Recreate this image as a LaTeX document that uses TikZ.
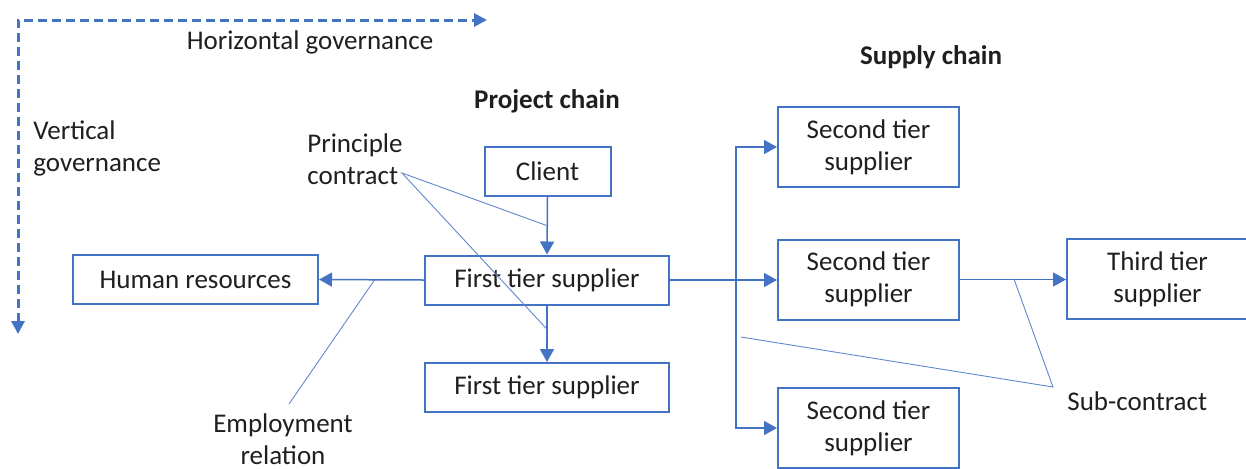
\documentclass[tikz,border=0pt]{standalone}
\usepackage{fontspec}
\setmainfont{Carlito}
\usetikzlibrary{arrows.meta,calc,positioning}
\definecolor{chainblue}{HTML}{4472C4}
\tikzset {
  >={Triangle[length=6.5pt,width=7pt]},
  every node/.style={font=\fontsize{13.5}{16}\selectfont, text=black!88},
  party/.style={draw=chainblue, line width=1pt, minimum height=24.5pt, inner sep=0pt, align=center},
  tier/.style={party, minimum width=90.5pt, minimum height=40pt},
  note/.style={anchor=west, align=left, inner xsep=0pt},
  link/.style={draw=chainblue, line width=0.75pt},
  callout/.style={draw=chainblue!85, line width=0.45pt},
  govern/.style={draw=chainblue, line width=1.5pt, dash pattern=on 4.5pt off 2.5pt,
    >={Triangle[length=6.5pt,width=6.5pt]}},
}

\begin{document}
\begin{tikzpicture}[x=0.5pt,y=-0.5pt]
  \useasboundingbox (0,0) rectangle (1246,468);

  % governance axes
  \coordinate (htip) at (487,20);
  \coordinate (vtip) at (18,334);
  \draw[govern,<->] (vtip) |- (htip);
  \node (horiz) at (310,42) {Horizontal governance};
  \node[note] (vert) at (33,148) {Vertical\\governance};

  % project chain
  \node (project) at (547,101) {\bfseries Project chain};
  \node[party, minimum width=63pt] (client) at (547.5,171.5) {Client};
  \node[party, minimum width=122pt] (first) at (547,280) {First tier supplier};
  \node[party, minimum width=122pt] (firstlow) at (547,387.5) {First tier supplier};
  \node[party, minimum width=122.5pt] (hr) at (195.5,279.5) {Human resources};

  \draw[link,->] (client.south) -- (first.north);
  \draw[link,->] (first.south) -- (firstlow.north);
  \draw[link,->] (first.west) -- (hr.east);

  % supply chain
  \node (supply) at (931,57) {\bfseries Supply chain};
  \node[tier] (secondup) at (868.5,147) {Second tier\\supplier};
  \node[tier] (secondmid) at (868.5,279.5) {Second tier\\supplier};
  \node[tier] (secondlow) at (868.5,428) {Second tier\\supplier};
  \node[tier] (third) at (1157.5,279) {Third tier\\supplier};

  \coordinate (split) at (736,280);
  \draw[link,->] (first.east) -- (first.east -| secondmid.west);
  \draw[link,->] (split) |- (secondup.west);
  \draw[link,->] (split) |- (secondlow.west);
  \draw[link,->] (secondmid.east) -- (secondmid.east -| third.west);

  % contract labels
  \node[note] (principle) at (307,159) {Principle\\contract};
  \node[align=center, inner sep=1pt] (employ) at (283,439) {Employment\\relation};
  \node[note] (subcon) at (1067,401) {Sub-contract};

  \coordinate (pctail) at (402,173);
  \coordinate (pca) at ($(client.south)!0.5!(first.north)$);
  \coordinate (pcb) at ($(first.south)!0.42!(firstlow.north)$);
  \draw[callout] (pca) -- (pctail) -- (pcb);

  \coordinate (empa) at ($(first.west)!0.47!(hr.east)$);
  \coordinate (emptail) at (289,404);
  \draw[callout] (empa) -- (emptail);

  \coordinate (suba) at ($(secondmid.east)!0.51!(third.west)$);
  \coordinate (subb) at (741,337);
  \coordinate (subtip) at (1053,387);
  \draw[callout] (suba) -- (subtip) -- (subb);
\end{tikzpicture}
\end{document}
